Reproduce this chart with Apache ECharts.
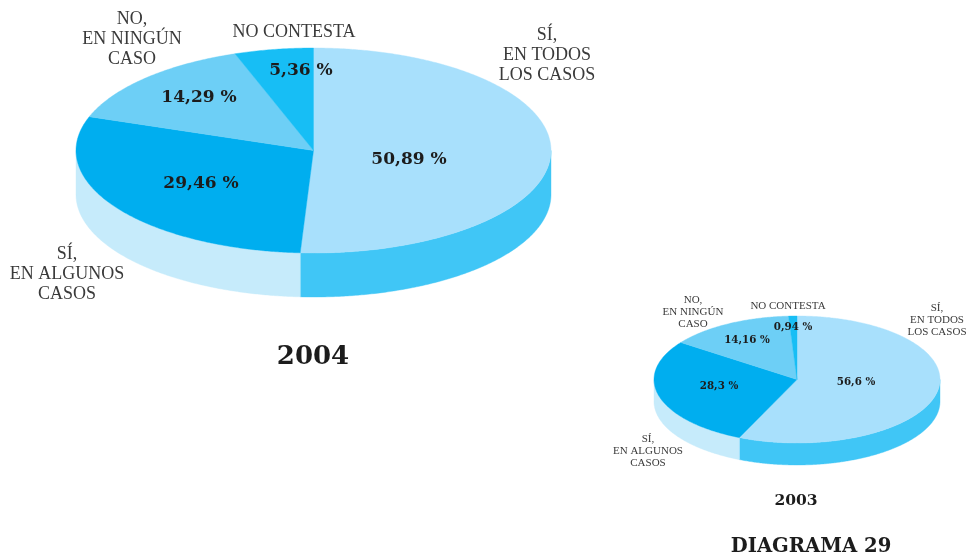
<!DOCTYPE html>
<html><head><meta charset="utf-8">
<style>html,body{margin:0;padding:0;background:#fff}#c{width:967px;height:553px}</style>
<script src="https://cdn.jsdelivr.net/npm/echarts@6/dist/echarts.min.js"></script>
</head><body><div id="c"></div>
<script>
var categories = ['SÍ,\nEN TODOS\nLOS CASOS', 'SÍ,\nEN ALGUNOS\nCASOS', 'NO,\nEN NINGÚN\nCASO', 'NO CONTESTA'];
var values2004 = [50.89, 29.46, 14.29, 5.36];
var values2003 = [56.6, 28.3, 14.16, 0.94];
var labels2004 = ['50,89 %', '29,46 %', '14,29 %', '5,36 %'];
var labels2003 = ['56,6 %', '28,3 %', '14,16 %', '0,94 %'];
var topColors = ['#A8E0FC', '#00AEEF', '#6DCFF6', '#17BEF5'];
var sideColors = ['#40C6F6', '#C6EBFB', '#C6EBFB', '#C6EBFB'];

var pie2004 = {cx: 313.5, cy: 150.5, rx: 237.5, ry: 102.5, depth: 44,
  catFont: 18, catLine: 20, valFont: 17,
  catPos: [[547, 55], [67, 274], [132, 39], [294, 32]],
  valPos: [[409, 160], [201, 184], [199, 98], [301, 71]]};
var pie2003 = {cx: 797, cy: 379.5, rx: 143, ry: 63.5, depth: 22,
  catFont: 11, catLine: 12, valFont: 10.3,
  catPos: [[937, 320], [648, 451], [693, 312], [788, 306]],
  valPos: [[856, 382], [719, 386], [747, 340], [793, 327]]};

function pt(g, deg, dy) {
  var a = deg * Math.PI / 180;
  return [g.cx + g.rx * Math.sin(a), g.cy - g.ry * Math.cos(a) + (dy || 0)];
}
function arc(g, from, to, dy) {
  var pts = [], n = Math.max(2, Math.ceil(Math.abs(to - from) * 2));
  for (var i = 0; i <= n; i++) pts.push(pt(g, from + (to - from) * i / n, dy));
  return pts;
}
function pieSeries(values, labels, g) {
  var total = values.reduce(function (s, v) { return s + v; }, 0);
  return {
    type: 'custom', coordinateSystem: 'none', silent: true, animation: false,
    data: values.map(function (v, i) { return {name: categories[i], value: [v]}; }),
    renderItem: function (params, api) {
      var i = params.dataIndex, before = 0;
      for (var k = 0; k < i; k++) before += values[k];
      var from = before / total * 360, to = (before + api.value(0)) / total * 360;
      var kids = [];
      var s = Math.max(from, 90), e = Math.min(to, 270);
      if (e > s) {
        var upper = arc(g, s, e, 0), lower = arc(g, e, s, g.depth);
        kids.push({type: 'polygon', shape: {points: upper.concat(lower)},
          style: {fill: sideColors[i], stroke: sideColors[i], lineWidth: 0.4}});
      }
      kids.push({type: 'polygon', z2: 2, shape: {points: [[g.cx, g.cy]].concat(arc(g, from, to, 0))},
        style: {fill: topColors[i], stroke: topColors[i], lineWidth: 0.4}});
      return {type: 'group', children: kids};
    }
  };
}
function textSeries(values, labels, g) {
  return {
    type: 'custom', coordinateSystem: 'none', silent: true, animation: false, z: 5,
    data: values.map(function (v, i) { return [v]; }),
    renderItem: function (params) {
      var i = params.dataIndex;
      return {type: 'group', children: [
        {type: 'text', x: g.catPos[i][0], y: g.catPos[i][1], style: {text: categories[i], align: 'center', verticalAlign: 'middle',
          fontFamily: '"Liberation Serif"', fontSize: g.catFont, lineHeight: g.catLine, fill: '#3a3a3a'}},
        {type: 'text', x: g.valPos[i][0], y: g.valPos[i][1], style: {text: labels[i], align: 'center', verticalAlign: 'middle',
          fontFamily: '"DejaVu Serif"', fontWeight: 'bold', fontSize: g.valFont, fill: '#1c1c1c'}}
      ]};
    }
  };
}
function heading(text, x, y, size) {
  return {text: text, left: x, top: y, textAlign: 'center', textVerticalAlign: 'middle', padding: 0,
    textStyle: {fontFamily: '"DejaVu Serif"', fontWeight: 'bold', fontSize: size, color: '#1c1c1c'}};
}
var chart = echarts.init(document.getElementById('c'), null, {renderer: 'canvas'});
chart.setOption({
  animation: false, backgroundColor: '#ffffff',
  title: [heading('2004', 313, 357, 26), heading('2003', 796, 501, 15.5), heading('DIAGRAMA 29', 811, 547, 19.6)],
  series: [pieSeries(values2004, labels2004, pie2004), pieSeries(values2003, labels2003, pie2003),
    textSeries(values2004, labels2004, pie2004), textSeries(values2003, labels2003, pie2003)]
});
</script></body></html>
